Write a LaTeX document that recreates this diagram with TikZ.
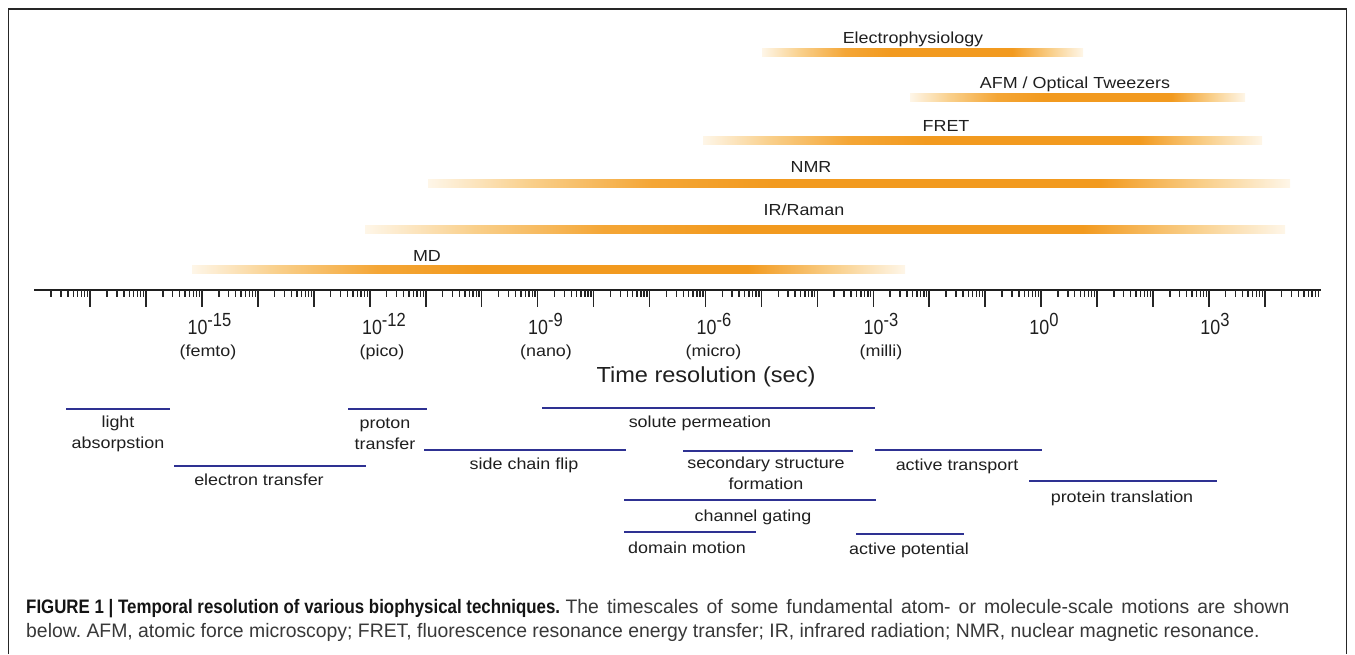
\documentclass[tikz,border=0pt]{standalone}
\usepackage{fontspec}
\setmainfont{Liberation Sans}[FakeStretch=1.12]
\newfontfamily\capfont{Liberation Sans}[FakeStretch=0.994, BoldFeatures={FakeStretch=0.865}]
\newfontfamily\numfont{Liberation Sans}[FakeStretch=0.87]
\newfontfamily\titfont{Liberation Sans}[FakeStretch=1.08]
\definecolor{orD}{HTML}{F29A1F}
\definecolor{orM}{HTML}{F4A636}
\definecolor{orL}{HTML}{F9CF8A}
\definecolor{orE}{HTML}{FEF6E8}
\definecolor{navy}{HTML}{2E3192}
\pgfdeclarehorizontalshading{barshade}{100bp}{color(0bp)=(orE); color(25bp)=(orE); color(31bp)=(orL); color(38bp)=(orM); color(45bp)=(orD); color(64bp)=(orD); color(70bp)=(orL); color(75bp)=(orE); color(100bp)=(orE)}
\newcommand\pw[1]{{\numfont\fontsize{20.5}{20.5}\selectfont 10\raisebox{7.7pt}{\fontsize{19}{19}\selectfont #1}}}
\frenchspacing
\begin{document}
\begin{tikzpicture}[x=1pt,y=-1pt,
  lab/.style={font=\fontsize{16}{21.5}\selectfont, inner sep=0pt, anchor=base, text=black!88},
  lab2/.style={font=\fontsize{16}{21.5}\selectfont, inner sep=0pt, align=center, text=black!88},
  bar/.style={shading=barshade},
  proc/.style={draw=navy, line width=2.2pt},
  mtick/.style={draw=black!85, line width=1.4pt},
  Mtick/.style={draw=black!85, line width=1.5pt},
  frame/.style={draw=black!85, line width=1.2pt},
  captxt/.style={anchor=base west, inner sep=0pt, font=\capfont\fontsize{19.5}{24}\selectfont, text=black!78}]
\useasboundingbox (0,0) rectangle (1355,654);
% frame
\draw[frame] (8.5,654) -- (8.5,9) -- (1346.5,9) -- (1346.5,654);
% technique bars
\shade[bar] (762,48) rectangle (1083,56);
\node[lab] (elec) at (913,43.5) {Electrophysiology};
\shade[bar] (910,93) rectangle (1245,101);
\node[lab] (afm) at (1075,88.5) {AFM / Optical Tweezers};
\shade[bar] (703,136) rectangle (1262,144);
\node[lab] (fret) at (946,131.5) {FRET};
\shade[bar] (428,179) rectangle (1290,187);
\node[lab] (nmr) at (811,172.5) {NMR};
\shade[bar] (365,225) rectangle (1285,233);
\node[lab] (ir) at (804,215.5) {IR/Raman};
\shade[bar] (192,265) rectangle (905,273);
\node[lab] (md) at (427,261) {MD};
% axis
\def\dec{55.94}
\def\xo{34.18}
\draw[draw=black!88, line width=2.3pt] (\xo,290.3) -- (1321,290.3);
\foreach \k in {0,...,22} {
  \foreach \m in {0.30103,0.47712,0.60206,0.69897,0.77815,0.84510,0.90309,0.95424} {
    \draw[mtick] ({\xo+(\k+\m)*\dec},290.3) -- ++(0,6.7);
  }
}
\foreach \k in {1,...,22} {
  \draw[Mtick] ({\xo+\k*\dec},290.3) -- ++(0,16.5);
}
% axis labels
\node[lab] (e15) at (209.5,334) {\pw{-15}};
\node[lab] (e12) at (384,334) {\pw{-12}};
\node[lab] (e9) at (545.5,334) {\pw{-9}};
\node[lab] (e6) at (714,334) {\pw{-6}};
\node[lab] (e3) at (881,334) {\pw{-3}};
\node[lab] (e0) at (1044,334) {\pw{0}};
\node[lab] (ep3) at (1215,334) {\pw{3}};
\node[lab] (femto) at (208,356) {(femto)};
\node[lab] (pico) at (382,356) {(pico)};
\node[lab] (nano) at (546,356) {(nano)};
\node[lab] (micro) at (713.5,356) {(micro)};
\node[lab] (milli) at (881,356) {(milli)};
\node[lab, font=\titfont\fontsize{21.8}{25}\selectfont] (title) at (706,382) {Time resolution (sec)};
% processes
\draw[proc] (66,409) -- (170,409);
\node[lab2] (light) at (118,434) {light\\absorpstion};
\draw[proc] (174,466) -- (366,466);
\node[lab] (elt) at (259,485.5) {electron transfer};
\draw[proc] (348,409) -- (427,409);
\node[lab2] (prot) at (385,434) {proton\\transfer};
\draw[proc] (424,450) -- (626,450);
\node[lab] (scf) at (524,469.5) {side chain flip};
\draw[proc] (542,408) -- (875,408);
\node[lab] (sol) at (700,427.5) {solute permeation};
\draw[proc] (683,451) -- (853,451);
\node[lab2] (sec) at (766,473.5) {secondary structure\\formation};
\draw[proc] (875,450) -- (1042,450);
\node[lab] (act) at (957,470.5) {active transport};
\draw[proc] (1029,481) -- (1217,481);
\node[lab] (ptr) at (1122,502.5) {protein translation};
\draw[proc] (624,500) -- (876,500);
\node[lab] (cg) at (753,521.5) {channel gating};
\draw[proc] (624,532) -- (756,532);
\node[lab] (dm) at (687,553.5) {domain motion};
\draw[proc] (856,534) -- (964,534);
\node[lab] (ap) at (909,554.5) {active potential};
% caption
\node[captxt] (cap1) at (26,613)
  {\textbf{\color{black!92}FIGURE 1 | Temporal resolution of various biophysical techniques.} \makebox[724pt][s]{The timescales of some fundamental atom- or molecule-scale motions are shown}};
\node[captxt] (cap2) at (26,637)
  {below. AFM, atomic force microscopy; FRET, fluorescence resonance energy transfer; IR, infrared radiation; NMR, nuclear magnetic resonance.};
\end{tikzpicture}
\end{document}
